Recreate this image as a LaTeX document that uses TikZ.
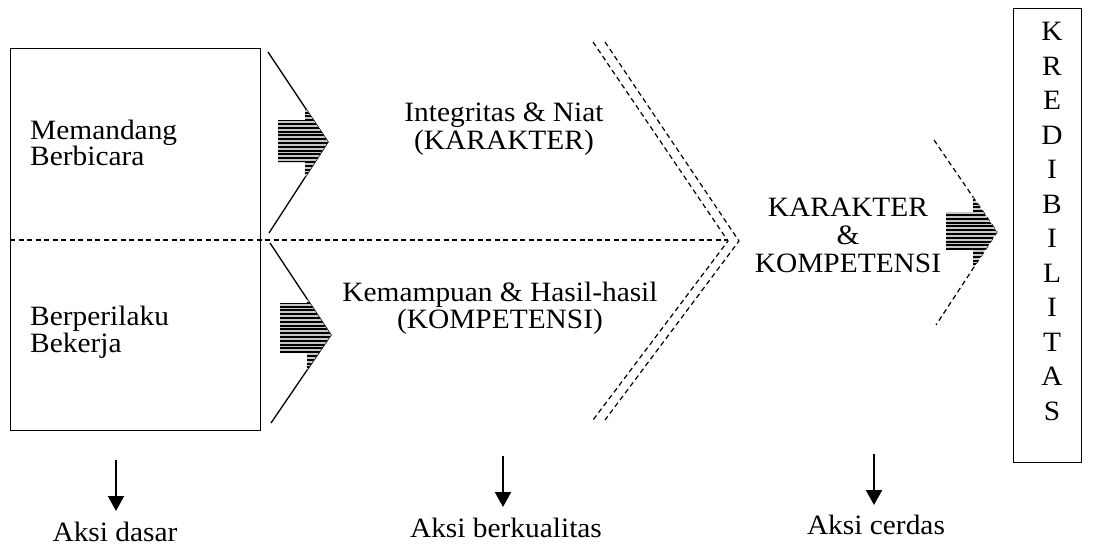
\documentclass[tikz,border=0pt]{standalone}
\usepackage{fontspec}
\setmainfont{Liberation Serif}[FakeStretch=1.05]
\usetikzlibrary{arrows.meta}
\tikzset{
  txt/.style={inner sep=0pt, font=\fontsize{28}{27}\selectfont},
  solidln/.style={line width=1.3pt},
  dashln/.style={line width=1.2pt, dash pattern=on 5pt off 3.5pt},
  downarrow/.style={line width=2.2pt, -{Triangle[width=16pt,length=15pt]}},
  stripe/.style={fill=black},
  stripebg/.style={fill=gray!45}
}
\begin{document}
\begin{tikzpicture}[x=1pt,y=-1pt]
\useasboundingbox (0,0) rectangle (1093,546);

% left box
\node[draw, solidln, minimum width=250pt, minimum height=382pt, inner sep=0pt, anchor=north west] (lbox) at (10,48) {};
\coordinate (hl) at (10,240);
\coordinate (hr) at (728,240);
\draw[dashln] (hl) -- (hr);

\node[txt, anchor=west, align=left, font=\fontsize{28}{26}\selectfont] (t1) at (30,142.5) {Memandang\\Berbicara};
\node[txt, anchor=west, align=left] (t2) at (30,332) {Berperilaku\\Bekerja};
\node[txt, anchor=center, align=center, font=\fontsize{28}{27.5}\selectfont] (t3) at (504,129.2) {Integritas \& Niat\\(KARAKTER)};
\node[txt, anchor=center, align=center, font=\fontsize{28}{27.5}\selectfont] (t4) at (500,308.3) {Kemampuan \& Hasil-hasil\\(KOMPETENSI)};
\node[txt, anchor=center, align=center, font=\fontsize{28}{28}\selectfont] (t5) at (848,235.8) {KARAKTER\\\&\\KOMPETENSI};

% solid chevrons
\coordinate (ua) at (268,52); \coordinate (ub) at (328,142); \coordinate (uc) at (269,233);
\coordinate (la) at (270,243); \coordinate (lb) at (331,335); \coordinate (lc) at (271,423);
\draw[solidln] (ua) -- (ub) -- (uc);
\draw[solidln] (la) -- (lb) -- (lc);

% hatched arrows
\begin{scope}
\clip (278,120) -- (305,120) -- (305,107.5) -- (ub) -- (305,177.5) -- (305,162) -- (278,162) -- cycle;
\fill[stripebg] (270,100) rectangle (335,185);
\foreach \k in {0,...,21} \fill[stripe] (270,{104+\k*3.8}) rectangle (335,{104+\k*3.8+1.9});
\end{scope}
\begin{scope}
\clip (280,303) -- (307,303) -- (307,298.8) -- (lb) -- (307,370) -- (307,353) -- (280,353) -- cycle;
\fill[stripebg] (270,295) rectangle (340,375);
\foreach \k in {0,...,20} \fill[stripe] (270,{298+\k*3.8}) rectangle (340,{298+\k*3.8+1.9});
\end{scope}

% double dashed chevron
\coordinate (o1) at (605,42); \coordinate (o2) at (739,241); \coordinate (o3) at (605,420);
\coordinate (i1) at (593,42); \coordinate (i2) at (728,241); \coordinate (i3) at (593,420);
\draw[dashln] (o1) -- (o2) -- (o3);
\draw[dashln] (i1) -- (i2) -- (i3);

% right dashed chevron
\coordinate (r1) at (934,140); \coordinate (r2) at (997,232); \coordinate (r3) at (936,325);
\draw[dashln] (r1) -- (r2) -- (r3);
\begin{scope}
\clip (946,212) -- (973,212) -- (973,197) -- (r2) -- (973,268.6) -- (973,250) -- (946,250) -- cycle;
\fill[stripebg] (940,190) rectangle (1000,275);
\foreach \k in {0,...,21} \fill[stripe] (940,{195+\k*3.8}) rectangle (1000,{195+\k*3.8+1.9});
\end{scope}

% right box
\node[draw, solidln, minimum width=68pt, minimum height=454pt, inner sep=0pt, anchor=north west] (rbox) at (1013,8) {};
\node[txt, align=center, font=\fontsize{28}{34.5}\selectfont] (kred) at (1052,221.3) {K\\R\\E\\D\\I\\B\\I\\L\\I\\T\\A\\S};

% bottom arrows
\coordinate (a1s) at (116,460); \coordinate (a1e) at (116,511);
\coordinate (a2s) at (503,456); \coordinate (a2e) at (503,507);
\coordinate (a3s) at (874,454); \coordinate (a3e) at (874,505);
\draw[downarrow] (a1s) -- (a1e);
\draw[downarrow] (a2s) -- (a2e);
\draw[downarrow] (a3s) -- (a3e);
\node[txt, anchor=base] (b1) at (115,541) {Aksi dasar};
\node[txt, anchor=base] (b2) at (506,537) {Aksi berkualitas};
\node[txt, anchor=base] (b3) at (876,534) {Aksi cerdas};
\end{tikzpicture}
\end{document}
